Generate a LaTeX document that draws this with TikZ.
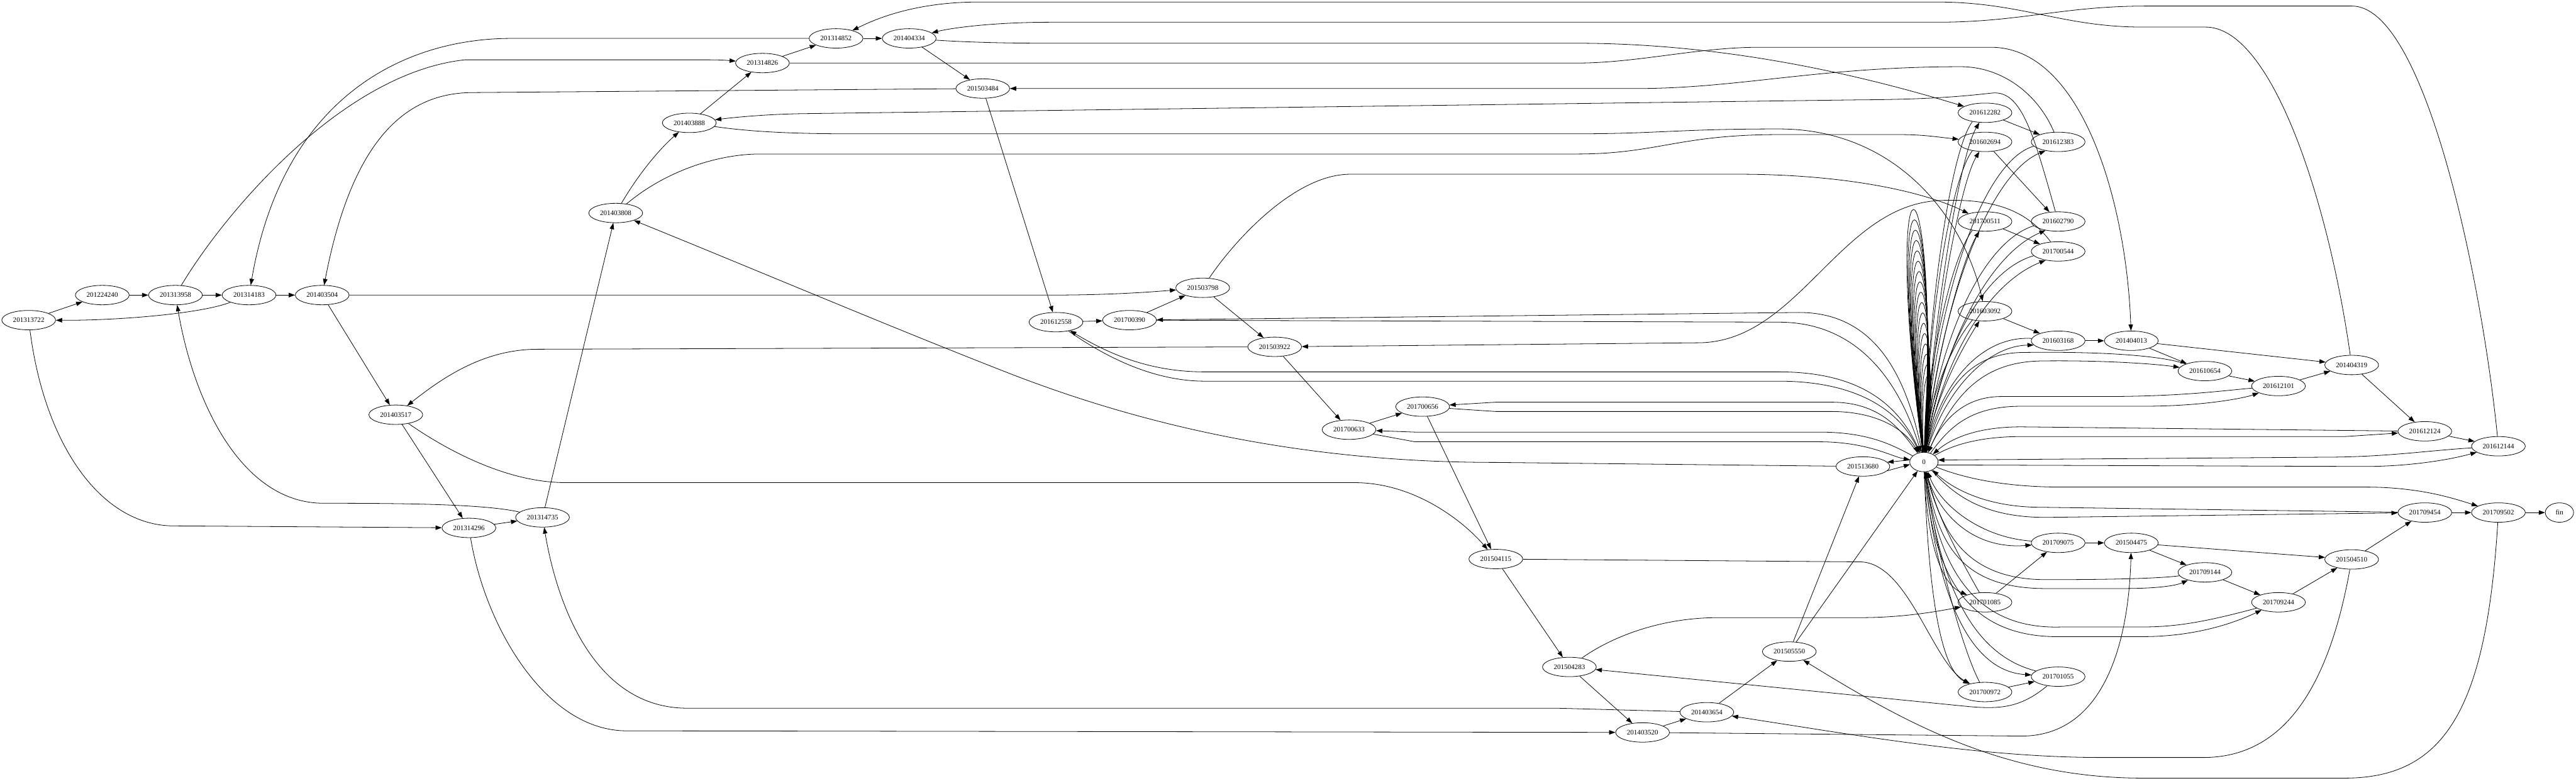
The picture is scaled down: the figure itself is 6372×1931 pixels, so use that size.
\documentclass[tikz,border=0pt]{standalone}
\usepackage{fontspec}
\setmainfont{Liberation Serif}
\usetikzlibrary{shapes.geometric,arrows.meta}
\begin{document}
\begin{tikzpicture}[x=0.01cm,y=-0.01cm,
 nd/.style={ellipse,draw,line width=0.35pt,minimum width=1.33cm,minimum height=0.48cm,inner sep=0pt,font=\fontsize{4.9}{5.5}\selectfont},
 sm/.style={nd,minimum width=0.7cm},
 e/.style={line width=0.35pt,-{Triangle[length=4.4pt,width=3.1pt]}}]
\useasboundingbox (0,0) rectangle (6372,1931);
% nodes
\node[nd] (n201313722) at (71,792) {201313722};
\node[nd] (n201224240) at (253,730) {201224240};
\node[nd] (n201313958) at (434,730) {201313958};
\node[nd] (n201314183) at (616,730) {201314183};
\node[nd] (n201403504) at (797,730) {201403504};
\node[nd] (n201403517) at (979,1026) {201403517};
\node[nd] (n201314296) at (1160,1306) {201314296};
\node[nd] (n201314735) at (1342,1280) {201314735};
\node[nd] (n201403808) at (1523,527) {201403808};
\node[nd] (n201403888) at (1705,304) {201403888};
\node[nd] (n201314826) at (1886,156) {201314826};
\node[nd] (n201314852) at (2068,95) {201314852};
\node[nd] (n201404334) at (2249,95) {201404334};
\node[nd] (n201503484) at (2431,219) {201503484};
\node[nd] (n201612558) at (2612,797) {201612558};
\node[nd] (n201700390) at (2794,792) {201700390};
\node[nd] (n201503798) at (2975,712) {201503798};
\node[nd] (n201503922) at (3153,858) {201503922};
\node[nd] (n201700633) at (3337,1063) {201700633};
\node[nd] (n201700656) at (3519,1006) {201700656};
\node[nd] (n201504115) at (3700,1383) {201504115};
\node[nd] (n201504283) at (3882,1650) {201504283};
\node[nd] (n201403520) at (4063,1812) {201403520};
\node[nd] (n201403654) at (4222,1762) {201403654};
\node[nd] (n201505550) at (4426,1612) {201505550};
\node[nd] (n201513680) at (4608,1154) {201513680};
\node[sm] (n0) at (4759,1143) {0};
\node[nd] (n201612282) at (4910,279) {201612282};
\node[nd] (n201602694) at (4910,351) {201602694};
\node[nd] (n201700511) at (4910,548) {201700511};
\node[nd] (n201603092) at (4910,770) {201603092};
\node[nd] (n201701085) at (4910,1490) {201701085};
\node[nd] (n201700972) at (4910,1712) {201700972};
\node[nd] (n201612383) at (5091,351) {201612383};
\node[nd] (n201602790) at (5091,548) {201602790};
\node[nd] (n201700544) at (5091,622) {201700544};
\node[nd] (n201603168) at (5091,843) {201603168};
\node[nd] (n201709075) at (5091,1343) {201709075};
\node[nd] (n201701055) at (5091,1674) {201701055};
\node[nd] (n201404013) at (5272,843) {201404013};
\node[nd] (n201504475) at (5272,1343) {201504475};
\node[nd] (n201610654) at (5454,918) {201610654};
\node[nd] (n201709144) at (5454,1416) {201709144};
\node[nd] (n201612101) at (5636,955) {201612101};
\node[nd] (n201709244) at (5636,1490) {201709244};
\node[nd] (n201404319) at (5817,903) {201404319};
\node[nd] (n201504510) at (5817,1384) {201504510};
\node[nd] (n201612124) at (5998,1067) {201612124};
\node[nd] (n201709454) at (5998,1268) {201709454};
\node[nd] (n201612144) at (6180,1104) {201612144};
\node[nd] (n201709502) at (6180,1268) {201709502};
\node[sm] (nfin) at (6331,1268) {fin};
% main edges
\draw[e] (n201313722) -- (n201224240);
\draw[e] (n201224240) -- (n201313958);
\draw[e] (n201313958) -- (n201314183);
\draw[e] (n201314183) -- (n201403504);
\draw[e] (n201314183) .. controls (500,775) and (300,793) .. (n201313722);
\draw[e] (n201313958) .. controls (560,520) and (850,180) .. (1150,148) -- (1750,148) .. controls (1790,148) and (1805,150) .. (n201314826);
\draw[e] (n201314852) -- (1265,95) .. controls (1000,95) and (700,240) .. (n201314183);
\draw[e] (n201503484) -- (1170,229) .. controls (1000,229) and (870,350) .. (n201403504);
\draw[e] (n201403504) -- (2600,730) .. controls (2750,730) and (2850,722) .. (n201503798);
\draw[e] (n201403504) -- (n201403517);
\draw[e] (n201313722) .. controls (110,1100) and (250,1301) .. (430,1301) -- (n201314296);
\draw[e] (n201314735) .. controls (1200,1247) and (1000,1245) .. (800,1245) .. controls (600,1245) and (480,1000) .. (n201313958);
\draw[e] (n201403517) -- (n201314296);
\draw[e] (n201403517) .. controls (1100,1110) and (1250,1194) .. (1400,1194) -- (3350,1194) .. controls (3500,1194) and (3620,1290) .. (n201504115);
\draw[e] (n201503922) -- (1330,864) .. controls (1200,864) and (1100,930) .. (n201403517);
\draw[e] (n201403808) .. controls (1580,430) and (1630,370) .. (n201403888);
\draw[e] (n201403888) -- (n201314826);
\draw[e] (n201314826) -- (n201314852);
\draw[e] (n201314826) -- (3900,156) .. controls (4050,156) and (4200,117) .. (4350,117) -- (4925,117) .. controls (5150,117) and (5260,500) .. (n201404013);
\draw[e] (n201404319) .. controls (5760,500) and (5620,67) .. (5456,67) -- (5300,67) .. controls (5100,67) and (5000,5) .. (4790,5) -- (2420,5) .. controls (2250,5) and (2150,55) .. (n201314852);
\draw[e] (n201612144) .. controls (6140,700) and (6000,15) .. (5818,15) -- (5310,15) .. controls (5100,15) and (5000,55) .. (4790,55) -- (2600,55) .. controls (2450,55) and (2350,70) .. (n201404334);
\draw[e] (n201314852) -- (n201404334);
\draw[e] (n201404334) .. controls (2400,105) and (2500,107) .. (2600,107) -- (3900,107) .. controls (4300,107) and (4650,200) .. (n201612282);
\draw[e] (n201404334) -- (n201503484);
\draw[e] (n201612383) .. controls (5040,230) and (4950,165) .. (4850,165) .. controls (4500,165) and (4300,219) .. (4050,219) -- (n201503484);
\draw[e] (n201503484) -- (n201612558);
\draw[e] (n201602790) .. controls (5030,330) and (5000,225) .. (4930,230) .. controls (4880,235) and (4800,246) .. (4600,247) -- (2000,281) .. controls (1900,282) and (1820,290) .. (n201403888);
\draw[e] (n201403888) .. controls (1850,325) and (1950,331) .. (2100,331) -- (3900,331) .. controls (4100,331) and (4150,319) .. (4400,319) .. controls (4700,319) and (4860,550) .. (n201603092);
\draw[e] (n201403808) .. controls (1650,420) and (1780,381) .. (1880,381) -- (3900,381) .. controls (4100,381) and (4150,333) .. (4400,333) -- (4700,333) .. controls (4760,333) and (4800,340) .. (n201602694);
\draw[e] (n201503798) .. controls (3050,600) and (3200,431) .. (3340,431) -- (4300,431) .. controls (4550,431) and (4750,470) .. (n201700511);
\draw[e] (n201513680) -- (3700,1144) .. controls (3300,1144) and (2900,1080) .. (2500,925) .. controls (2200,808) and (1900,680) .. (n201403808);
\draw[e] (n201314735) -- (n201403808);
\draw[e] (n201314296) -- (n201314735);
\draw[e] (n201314296) .. controls (1200,1550) and (1350,1808) .. (1550,1808) -- (n201403520);
\draw[e] (n201403654) -- (3850,1752) -- (1700,1752) .. controls (1450,1752) and (1370,1450) .. (n201314735);
\draw[e] (n201612558) -- (n201700390);
\draw[e] (n201700390) -- (n201503798);
\draw[e] (n201503798) -- (n201503922);
\draw[e] (n201700544) .. controls (5020,530) and (4950,490) .. (4800,496) .. controls (4550,505) and (4450,848) .. (4200,848) -- (n201503922);
\draw[e] (n201503922) -- (n201700633);
\draw[e] (n201700633) -- (n201700656);
\draw[e] (n201700656) -- (n201504115);
\draw[e] (n201504115) -- (n201504283);
\draw[e] (n201504115) -- (4600,1390) .. controls (4720,1390) and (4780,1640) .. (n201700972);
\draw[e] (n201504283) -- (n201403520);
\draw[e] (n201504283) .. controls (3980,1580) and (4100,1528) .. (4250,1528) -- (4600,1528) .. controls (4700,1528) and (4780,1515) .. (n201701085);
\draw[e] (n201701055) .. controls (5000,1750) and (4950,1755) .. (4870,1748) -- (n201504283);
\draw[e] (n201403520) -- (n201403654);
\draw[e] (n201403520) -- (5000,1821) .. controls (5200,1821) and (5265,1600) .. (n201504475);
\draw[e] (n201403654) -- (n201505550);
\draw[e] (n201505550) -- (n201513680);
\draw[e] (n201505550) -- (n0);
\draw[e] (n201709502) .. controls (6150,1750) and (6050,1925) .. (5800,1925) -- (5300,1925) .. controls (4950,1925) and (4700,1780) .. (n201505550);
\draw[e] (n201504510) .. controls (5760,1700) and (5650,1874) .. (5450,1874) -- (5200,1874) .. controls (4900,1874) and (4600,1820) .. (n201403654);
\draw[e] (n201701085) -- (n201709075);
\draw[e] (n201709075) -- (n201504475);
\draw[e] (n201700972) -- (n201701055);
\draw[e] (n201612282) -- (n201612383);
\draw[e] (n201602694) -- (n201602790);
\draw[e] (n201700511) -- (n201700544);
\draw[e] (n201603092) -- (n201603168);
\draw[e] (n201603168) -- (n201404013);
\draw[e] (n201404013) -- (n201610654);
\draw[e] (n201404013) -- (n201404319);
\draw[e] (n201610654) -- (n201612101);
\draw[e] (n201612101) -- (n201404319);
\draw[e] (n201404319) -- (n201612124);
\draw[e] (n201612124) -- (n201612144);
\draw[e] (n201504475) -- (n201709144);
\draw[e] (n201504475) -- (n201504510);
\draw[e] (n201709144) -- (n201709244);
\draw[e] (n201709244) -- (n201504510);
\draw[e] (n201504510) -- (n201709454);
\draw[e] (n201709454) -- (n201709502);
\draw[e] (n201709502) -- (nfin);
% edges with node 0
\draw[e] (n0.172) -- (n201513680.10);
\draw[e] (n201513680.-10) -- (n0.190);
\draw[e] (n0) .. controls (4700,1060) and (4650,995) .. (4530,995) -- (3700,995) -- (n201700656);
\draw[e] (n201700656) -- (3700,1018) -- (4530,1018) .. controls (4640,1018) and (4710,1060) .. (n0);
\draw[e] (n0) .. controls (4680,1100) and (4620,1069) .. (4500,1069) -- (3500,1069) -- (n201700633);
\draw[e] (n201700633) -- (3500,1093) -- (4500,1093) .. controls (4620,1093) and (4680,1130) .. (n0);
\draw[e] (n0) .. controls (4720,950) and (4650,773) .. (4450,773) -- (n201700390);
\draw[e] (n201700390) -- (4400,797) .. controls (4600,797) and (4700,950) .. (n0);
\draw[e] (n0) .. controls (4700,1000) and (4600,920) .. (4400,920) -- (2980,920) .. controls (2850,920) and (2750,880) .. (n201612558);
\draw[e] (n201612558) .. controls (2730,880) and (2850,943) .. (2980,943) -- (4400,943) .. controls (4600,943) and (4700,1020) .. (n0);
\draw[e] (n201612101) .. controls (5500,966) and (5400,981) .. (5200,981) -- (4950,981) .. controls (4850,981) and (4800,1050) .. (n0);
\draw[e] (n0) .. controls (4820,1060) and (4870,1005) .. (5000,1005) -- (5300,1005) .. controls (5450,1005) and (5550,985) .. (n201612101);
\draw[e] (n201610654) .. controls (5350,880) and (5200,869) .. (5000,872) .. controls (4880,875) and (4810,950) .. (n0);
\draw[e] (n0) .. controls (4830,980) and (4900,895) .. (5050,893) .. controls (5200,891) and (5330,900) .. (n201610654);
\draw[e] (n201612124) -- (5000,1056) .. controls (4880,1056) and (4820,1090) .. (n0);
\draw[e] (n0) .. controls (4830,1100) and (4900,1080) .. (5000,1080) -- (5800,1080) -- (n201612124);
\draw[e] (n201612144) .. controls (6000,1115) and (5900,1131) .. (5750,1131) -- (n0.8);
\draw[e] (n0.-12) -- (5850,1154) .. controls (5950,1154) and (6050,1140) .. (n201612144);
\draw[e] (n0) .. controls (4850,1180) and (4950,1205) .. (5100,1205) -- (5850,1205) .. controls (5980,1205) and (6060,1230) .. (n201709502);
\draw[e] (n201709454) -- (5050,1255) .. controls (4900,1255) and (4820,1200) .. (n0);
\draw[e] (n0) .. controls (4830,1220) and (4900,1280) .. (5060,1280) -- (n201709454);
\draw[e] (n201709144) .. controls (5350,1430) and (5250,1434) .. (5060,1434) .. controls (4850,1434) and (4800,1300) .. (n0);
\draw[e] (n0) .. controls (4790,1320) and (4830,1456) .. (5060,1456) -- (5250,1456) .. controls (5330,1456) and (5380,1450) .. (n201709144);
\draw[e] (n201709244) .. controls (5450,1540) and (5380,1551) .. (5300,1551) -- (5100,1551) .. controls (4850,1560) and (4790,1350) .. (n0);
\draw[e] (n0) .. controls (4780,1400) and (4850,1580) .. (5100,1575) -- (5300,1575) .. controls (5450,1575) and (5550,1530) .. (n201709244);
\draw[e] (n201709075) .. controls (4900,1330) and (4800,1250) .. (n0);
\draw[e] (n0) .. controls (4790,1270) and (4880,1360) .. (n201709075);
\draw[e] (n0) .. controls (4765,1300) and (4790,1440) .. (n201701085);
\draw[e] (n201701085) .. controls (4870,1420) and (4790,1280) .. (n0);
\draw[e] (n0) .. controls (4768,1400) and (4790,1650) .. (n201700972);
\draw[e] (n201700972) .. controls (4860,1620) and (4795,1400) .. (n0);
\draw[e] (n201701055) .. controls (4880,1620) and (4800,1450) .. (n0);
\draw[e] (n0) .. controls (4790,1470) and (4870,1660) .. (n201701055);
\draw[e] (n201612282.215) .. controls (4820,380) and (4768,800) .. (n0);
\draw[e] (n0) .. controls (4782,800) and (4845,390) .. (n201612282.240);
\draw[e] (n201602694.215) .. controls (4820,450) and (4768,830) .. (n0);
\draw[e] (n0) .. controls (4782,830) and (4845,460) .. (n201602694.240);
\draw[e] (n201700511.215) .. controls (4825,640) and (4770,900) .. (n0);
\draw[e] (n0) .. controls (4784,900) and (4850,650) .. (n201700511.240);
\draw[e] (n201603092.215) .. controls (4830,850) and (4772,980) .. (n0);
\draw[e] (n0) .. controls (4786,980) and (4855,860) .. (n201603092.240);
\draw[e] (n201612383.190) .. controls (4900,400) and (4790,750) .. (n0);
\draw[e] (n0) .. controls (4800,750) and (4920,430) .. (n201612383.215);
\draw[e] (n201602790.190) .. controls (4900,600) and (4795,850) .. (n0);
\draw[e] (n0) .. controls (4805,850) and (4920,630) .. (n201602790.215);
\draw[e] (n201700544.190) .. controls (4900,670) and (4798,880) .. (n0);
\draw[e] (n0) .. controls (4808,880) and (4920,700) .. (n201700544.215);
\draw[e] (n201603168.175) .. controls (4900,830) and (4800,950) .. (n0);
\draw[e] (n0) .. controls (4812,960) and (4920,855) .. (n201603168.190);
% self loops on 0
\foreach \i in {0,...,16}{
 \pgfmathsetmacro\hh{(930-\i*25.6-280)/0.75}
 \pgfmathsetmacro\xl{4745-\i*6}
 \draw[e] (n0) .. controls (\xl,\hh) and (4800,\hh) .. (n0);
}
\end{tikzpicture}
\end{document}
